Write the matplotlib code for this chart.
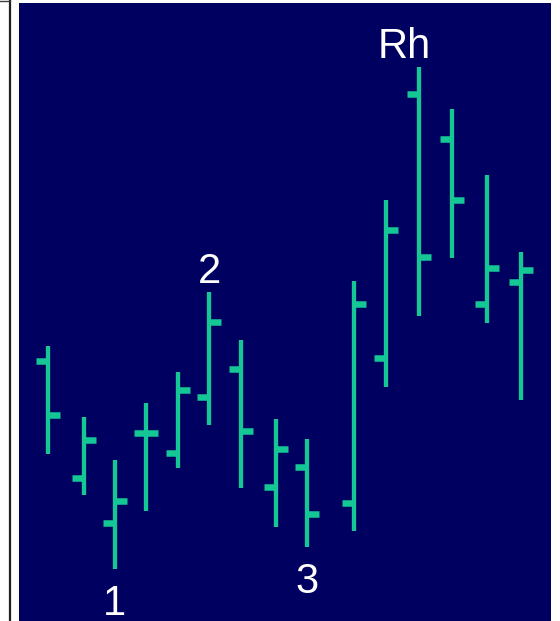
import matplotlib
matplotlib.use("Agg")
import matplotlib.pyplot as plt
from matplotlib.lines import Line2D

# ---- data (x position in chart units, OHLC prices in chart units) ----
x_pos  = [29, 65, 96, 127, 159, 190, 222, 257, 288, 335, 367, 400, 433, 468, 502]
opens  = [260, 143,  98, 188, 168, 224, 252, 134, 154, 118, 263, 527, 482, 317, 339]
highs  = [275, 204, 161, 218, 249, 329, 281, 202, 182, 340, 421, 554, 512, 446, 369]
lows   = [167, 126,  52, 110, 153, 196, 133,  94,  74,  90, 234, 305, 363, 298, 221]
closes = [206, 181, 120, 188, 231, 299, 190, 172, 107, 317, 391, 364, 421, 353, 351]

# wave labels: (text, bar index, anchor: 'high' or 'low')
label_text = ["1", "2", "3", "Rh"]
label_bar  = [2, 5, 8, 11]
label_side = ["low", "high", "low", "high"]

W, H = 560, 621
fig = plt.figure(figsize=(W / 100, H / 100), dpi=100, facecolor="white")
ax = fig.add_axes([19 / W, 0, 532 / W, 618 / H])
ax.set_facecolor("#000060")
ax.set_xlim(0, 532)
ax.set_ylim(0, 618)
ax.set_xticks([])
ax.set_yticks([])
for s in ax.spines.values():
    s.set_visible(False)

green = "#14C794"
tick_len = 12
ax.vlines(x_pos, lows, highs, colors=green, linewidth=3.1, capstyle="butt")
ax.hlines(opens, [x - tick_len for x in x_pos], x_pos, colors=green,
          linewidth=4.7, capstyle="butt")
ax.hlines(closes, x_pos, [x + tick_len for x in x_pos], colors=green,
          linewidth=4.7, capstyle="butt")

fam = ["Liberation Sans Narrow", "Liberation Sans", "DejaVu Sans"]
x_shift = {"1": -1, "2": 1, "3": 0, "Rh": -15}
for t, i, side in zip(label_text, label_bar, label_side):
    if side == "high":
        y = highs[i] + 9
    else:
        y = lows[i] - 46
    ax.text(x_pos[i] + x_shift[t], y, t, color="white",
            fontsize=30, family=fam, ha="center", va="baseline")

# left frame decoration
fig.add_artist(Line2D([9.5 / W, 9.5 / W], [0, 1], transform=fig.transFigure,
                      color="#202020", linewidth=1.6))
fig.add_artist(Line2D([0, 9.5 / W], [1 - 0.5 / H, 1 - 0.5 / H],
                      transform=fig.transFigure, color="#404040", linewidth=1.0))

fig.savefig("out.png", dpi=100, facecolor="white")
